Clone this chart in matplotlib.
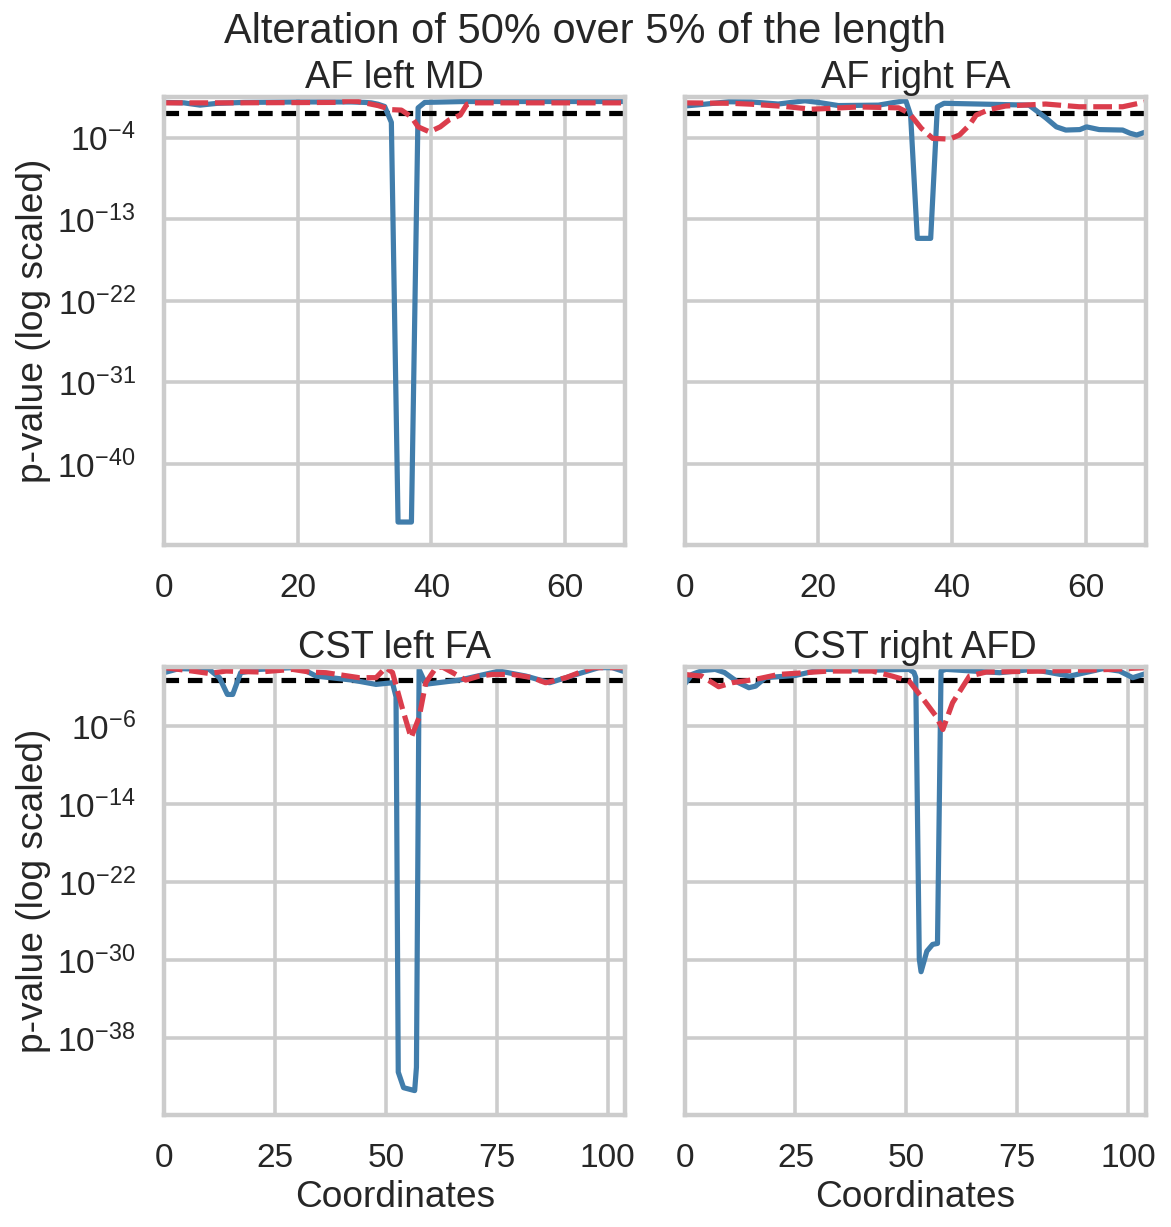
import numpy as np
import matplotlib
matplotlib.use("Agg")
import matplotlib.pyplot as plt
import seaborn as sns

# p-values as log10 values, at the vertices of each curve
# AF left MD (coordinates 0..69)
af_left_md_x_blue = [0, 3, 5.4, 8, 12, 20, 28, 30, 31, 32, 33, 34, 35, 37, 38, 39, 42, 45, 69]
af_left_md_lp_blue = [-0.1, -0.15, -0.4, -0.2, -0.1, -0.05, -0.05, -0.1, -0.15, -0.3, -0.55,
                      -2.3, -46.4, -46.4, -0.7, -0.1, -0.05, 0.0, 0.0]
af_left_md_x_red = [0, 10, 20, 26, 27.5, 29, 32, 34, 35.5, 37, 38, 39.7, 41.3, 42.6, 44.3, 45.3, 46, 69]
af_left_md_lp_red = [-0.15, -0.15, -0.12, -0.1, 0.05, 0.0, -0.45, -0.9, -0.95, -1.7, -2.8,
                     -3.35, -2.8, -2.05, -1.5, -0.3, -0.15, -0.15]

# AF right FA (coordinates 0..69)
af_right_fa_x_blue = [0, 3, 6.6, 10, 14, 18, 20, 23, 29, 32.6, 33.1, 33.8, 34.8, 36.8, 37.8, 38.8,
                      44, 51.5, 54, 55.6, 57, 59.1, 60.1, 62, 65.5, 66.6, 67.6, 69]
af_right_fa_lp_blue = [-0.5, -0.3, -0.03, -0.05, -0.28, 0.08, -0.1, -0.45, -0.4, 0.05, 0.05, -1.5,
                       -15.1, -15.1, -0.58, -0.2, -0.28, -0.4, -1.8, -2.8, -3.15, -3.1, -2.8, -3.1,
                       -3.15, -3.5, -3.7, -3.35]
af_right_fa_x_red = [0, 7, 10, 15, 19, 22, 26, 32, 33.6, 35.4, 37.1, 39.6, 41.1, 42.6, 43.6, 45.5,
                     48, 54, 59, 65.5, 69]
af_right_fa_lp_red = [-0.15, -0.2, -0.3, -0.55, -0.85, -0.75, -0.6, -0.7, -1.3, -2.96, -4.07, -4.15,
                      -3.7, -2.6, -1.5, -0.9, -0.5, -0.28, -0.58, -0.58, -0.03]

# CST left FA (coordinates 0..104)
cst_left_fa_x_blue = [0, 3.4, 10.2, 12.5, 14.3, 15.5, 17.3, 21.5, 29, 31, 34.3, 42.5, 47.8, 51.5,
                      52.3, 52.8, 54.0, 56.5, 56.9, 57.5, 59, 66.6, 75.6, 81.6, 86.9, 92.9, 98, 101, 104]
cst_left_fa_lp_blue = [-0.52, -0.1, -0.18, -1.03, -2.75, -2.75, -0.52, -0.18, 0.0, -0.1, -0.87,
                       -1.28, -1.72, -1.55, -3.0, -41.5, -43.1, -43.4, -41.0, -0.2, -1.7, -1.28,
                       -0.35, -0.87, -1.55, -0.7, 0.0, 0.0, -0.45]
cst_left_fa_x_red = [0, 6.4, 10.2, 14, 21.5, 29, 32.8, 36.5, 44, 47.8, 50, 51.5, 53.8, 55.7, 57.5,
                     59, 61.3, 62.8, 65, 68, 71, 74, 78.6, 83, 86, 90.6, 93.6, 96.6, 104]
cst_left_fa_lp_red = [0.0, -0.35, -0.6, -0.35, -0.45, -0.18, -0.45, -0.52, -1.03, -1.03, 0.0, -0.5,
                      -4.3, -7.2, -5.1, -1.55, 0.0, 0.05, -0.5, -1.28, -0.87, -0.7, -0.7, -1.03,
                      -1.55, -1.03, -0.5, 0.0, 0.0]

# CST right AFD (coordinates 0..104)
cst_right_afd_x_blue = [0, 1.65, 4, 6.9, 9, 12.2, 14.5, 16, 18.2, 25, 31, 43.8, 50.6, 51.7, 52.1,
                        52.9, 53.3, 54.6, 55.9, 57.0, 57.8, 58.9, 71, 78.4, 86.8, 94.3, 98, 101, 104]
cst_right_afd_lp_blue = [-1.72, -0.7, -0.3, -0.18, -0.5, -1.55, -2.06, -1.9, -1.03, -0.8, -0.18,
                         -0.25, -0.18, -0.5, -1.0, -29.9, -31.2, -29.1, -28.4, -28.3, -0.35, -0.18,
                         -0.52, -0.18, -0.87, -0.1, -0.35, -1.03, -0.6]
cst_right_afd_x_red = [0, 3.9, 7.7, 10.7, 16, 21.2, 32.5, 42.3, 46.8, 50.6, 54.4, 56.7, 58.2, 60.4,
                       64.2, 68, 81.5, 96.5, 104]
cst_right_afd_lp_red = [-0.7, -0.87, -1.96, -1.55, -1.2, -0.7, -0.35, -0.35, -0.87, -1.38, -3.6,
                        -5.0, -6.35, -3.6, -0.87, -0.45, -0.35, -0.18, 0.0]

titles = ["AF left MD", "AF right FA", "CST left FA", "CST right AFD"]
alpha = 0.05

sns.set_theme(style="whitegrid")
plt.rcParams.update({
    "font.family": ["Liberation Sans", "DejaVu Sans"],
    "font.size": 24,
    "axes.labelsize": 25,
    "axes.titlesize": 25.5,
    "xtick.labelsize": 22.5,
    "ytick.labelsize": 22.5,
    "figure.titlesize": 28,
    "lines.linewidth": 3.5,
    "axes.linewidth": 3,
    "grid.linewidth": 2.4,
    "xtick.major.size": 12,
    "ytick.major.size": 12,
    "xtick.major.pad": 7,
    "ytick.major.pad": 7,
    "axes.titlepad": 6,
    "axes.labelpad": 4,
})

blue = "#417dab"
red = "#db3d4c"

fig, axes = plt.subplots(2, 2, figsize=(1171 / 107, 1227 / 107), dpi=107, sharey="row")
fig.subplots_adjust(left=0.140, right=0.9787, top=0.9209, bottom=0.0913, wspace=0.128, hspace=0.274)

panels = [
    (af_left_md_x_blue, af_left_md_lp_blue, af_left_md_x_red, af_left_md_lp_red),
    (af_right_fa_x_blue, af_right_fa_lp_blue, af_right_fa_x_red, af_right_fa_lp_red),
    (cst_left_fa_x_blue, cst_left_fa_lp_blue, cst_left_fa_x_red, cst_left_fa_lp_red),
    (cst_right_afd_x_blue, cst_right_afd_lp_blue, cst_right_afd_x_red, cst_right_afd_lp_red),
]

for i, ax in enumerate(axes.flat):
    xb, lb, xr, lr = panels[i]
    ax.axhline(alpha, color="black", linestyle=(0, (2.8, 1.7)))
    ax.plot(xb, 10.0 ** np.array(lb), color=blue)
    ax.plot(xr, 10.0 ** np.array(lr), color=red, linestyle=(0, (3.6, 1.3)))
    ax.set_yscale("log")
    ax.set_title(titles[i])

# top row: 0..69, bottom row: 0..104
for ax in axes[0]:
    ax.set_xlim(0, 69)
    ax.set_ylim(10.0 ** -48.9, 10.0 ** 0.49)
    ax.set_yticks([1e-4, 1e-13, 1e-22, 1e-31, 1e-40])
    ax.set_xticks([0, 20, 40, 60])
for ax in axes[1]:
    ax.set_xlim(0, 104)
    ax.set_ylim(10.0 ** -45.9, 10.0 ** 0.03)
    ax.set_yticks([1e-6, 1e-14, 1e-22, 1e-30, 1e-38])
    ax.set_xticks([0, 25, 50, 75, 100])
    ax.set_xlabel("Coordinates")
for ax in axes[:, 0]:
    ax.set_ylabel("p-value (log scaled)")
for ax in axes.flat:
    ax.minorticks_off()
    ax.tick_params(left=False, bottom=False)

fig.suptitle("Alteration of 50% over 5% of the length", y=0.99)
fig.savefig("out.png", dpi=107)
